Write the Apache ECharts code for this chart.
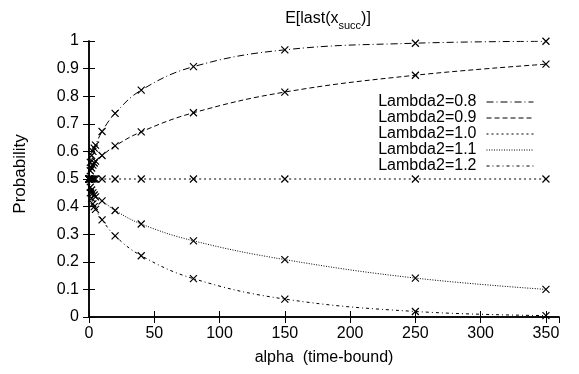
<!DOCTYPE html>
<html>
<head>
<meta charset="utf-8">
<script src="https://cdn.jsdelivr.net/npm/echarts@6/dist/echarts.min.js"></script>
<style>
html,body{margin:0;padding:0;background:#fff;}
#chart{width:579px;height:374px;}
</style>
</head>
<body>
<div id="chart"></div>
<script>
// x values (alpha)
var alphaValues = [0, 1, 2, 3, 4, 5, 10, 20, 40, 80, 150, 250, 350];
var seriesNames = ['Lambda2=0.8', 'Lambda2=0.9', 'Lambda2=1.0', 'Lambda2=1.1', 'Lambda2=1.2'];
var lambda08 = [0.5, 0.56, 0.585, 0.60, 0.612, 0.623, 0.672, 0.738, 0.822, 0.907, 0.968, 0.992, 0.999];
var lambda09 = [0.5, 0.53, 0.54, 0.55, 0.558, 0.565, 0.585, 0.62, 0.671, 0.74, 0.815, 0.876, 0.916];
var lambda10 = [0.5, 0.5, 0.5, 0.5, 0.5, 0.5, 0.5, 0.5, 0.5, 0.5, 0.5, 0.5, 0.5];
var lambda11 = [0.5, 0.47, 0.46, 0.45, 0.442, 0.435, 0.421, 0.386, 0.337, 0.276, 0.208, 0.141, 0.100];
var lambda12 = [0.5, 0.45, 0.43, 0.41, 0.40, 0.39, 0.352, 0.294, 0.222, 0.139, 0.065, 0.02, 0.005];
var xTicks = [0, 50, 100, 150, 200, 250, 300, 350];
var yTicks = [0, 0.1, 0.2, 0.3, 0.4, 0.5, 0.6, 0.7, 0.8, 0.9, 1];

var allValues = [lambda08, lambda09, lambda10, lambda11, lambda12];
var dashes = [[7, 3, 1, 3], [5, 3], [2, 3], [1, 1.5], [3, 3, 1, 3]];
var FONT = '"Liberation Sans", Arial, Helvetica, sans-serif';
var crossPath = 'path://M0,0L10,10M10,0L0,10';

function pairs(vals) {
  return alphaValues.map(function (x, i) { return [x, vals[i]]; });
}

var series = seriesNames.map(function (name, k) {
  return {
    name: name,
    type: 'line',
    data: pairs(allValues[k]),
    smooth: 0.4,
    symbol: crossPath,
    symbolSize: 7,
    showSymbol: true,
    lineStyle: { color: '#000', width: 1, type: dashes[k] },
    itemStyle: { color: 'transparent', borderColor: '#000', borderWidth: 1.2 },
    emphasis: { disabled: true },
    animation: false,
    z: 3
  };
});

var chart = echarts.init(document.getElementById('chart'), null, { renderer: 'canvas' });
chart.setOption({
  animation: false,
  backgroundColor: '#fff',
  title: {
    text: '{a|E[last(x}{s|succ}{a|)]}',
    left: 323,
    textAlign: 'center',
    top: 3,
    textStyle: {
      fontWeight: 'normal',
      rich: {
        a: { fontFamily: FONT, fontSize: 16, fontWeight: 'normal', color: '#000', verticalAlign: 'bottom', lineHeight: 19 },
        s: { fontFamily: FONT, fontSize: 11, fontWeight: 'normal', color: '#000', verticalAlign: 'bottom', lineHeight: 19, padding: [0, 0, -4, 0] }
      }
    }
  },
  legend: {
    orient: 'vertical',
    right: 45,
    top: 94,
    padding: 0,
    align: 'right',
    itemWidth: 47,
    itemHeight: 10,
    itemGap: 0,
    selectedMode: false,
    textStyle: { fontFamily: FONT, fontSize: 16, color: '#000', lineHeight: 15.2, padding: [0, 5, 0, 0] },
    itemStyle: { color: 'transparent', borderWidth: 0, opacity: 0 },
    lineStyle: { width: 1, color: '#000' },
    data: seriesNames
  },
  grid: { left: 89, right: 20, top: 41, bottom: 57, containLabel: false },
  xAxis: [{
    type: 'value',
    min: 0, max: 360, interval: 50,
    name: 'alpha  (time-bound)',
    nameLocation: 'middle',
    nameGap: 33,
    nameTextStyle: { fontFamily: FONT, fontSize: 16, color: '#000' },
    axisLine: { show: true, lineStyle: { color: '#000', width: 1.5 } },
    axisTick: { show: true, inside: true, length: 6, lineStyle: { color: '#000', width: 1 } },
    axisLabel: {
      fontFamily: FONT, fontSize: 16, color: '#000', margin: 9,
      showMaxLabel: false,
      formatter: function (v) { return xTicks.indexOf(v) >= 0 ? String(v) : ''; }
    },
    splitLine: { show: false }
  }, {
    type: 'value', position: 'top',
    min: 0, max: 360, interval: 50,
    axisLine: { show: true, lineStyle: { color: '#000', width: 1.5 } },
    axisTick: { show: true, inside: true, length: 6, lineStyle: { color: '#000', width: 1 } },
    axisLabel: { show: false },
    splitLine: { show: false }
  }],
  yAxis: [{
    type: 'value',
    min: 0, max: 1, interval: 0.1,
    name: 'Probability',
    nameLocation: 'middle',
    nameGap: 60,
    nameRotate: 90,
    nameTextStyle: { fontFamily: FONT, fontSize: 17, color: '#000', padding: [0, 0, 0, 10] },
    axisLine: { show: true, lineStyle: { color: '#000', width: 1.5 } },
    axisTick: { show: true, inside: true, length: 6, lineStyle: { color: '#000', width: 1 } },
    axisLabel: {
      fontFamily: FONT, fontSize: 16, color: '#000', margin: 10,
      formatter: function (v) {
        var r = Math.round(v * 10) / 10;
        return yTicks.indexOf(r) >= 0 ? String(r) : '';
      }
    },
    splitLine: { show: false }
  }, {
    type: 'value', position: 'right',
    min: 0, max: 1, interval: 0.1,
    axisLine: { show: true, lineStyle: { color: '#000', width: 1.5 } },
    axisTick: { show: true, inside: true, length: 6, lineStyle: { color: '#000', width: 1 } },
    axisLabel: { show: false },
    splitLine: { show: false }
  }],
  series: series
});
</script>
</body>
</html>
